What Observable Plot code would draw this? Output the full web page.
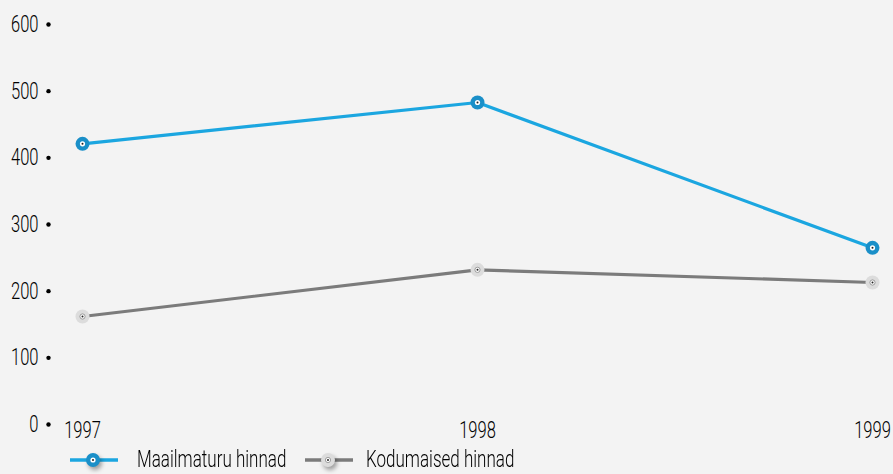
<!DOCTYPE html>
<html><head><meta charset="utf-8">
<script src="https://cdn.jsdelivr.net/npm/d3@7"></script>
<script src="https://cdn.jsdelivr.net/npm/@observablehq/plot@0.6"></script>
<style>
html,body{margin:0;padding:0;background:#f3f3f3;overflow:hidden;}
body{width:893px;height:474px;font-family:Roboto,sans-serif;}
#legend{position:relative;height:28px;margin-top:1px;font-size:23px;line-height:24px;color:#000;font-weight:300;}
.item{position:absolute;top:0;display:flex;align-items:center;height:28px;}
.item span{display:inline-block;transform:scaleX(0.74);transform-origin:left center;white-space:nowrap;}
</style></head><body>
<div id="chart"></div>
<div id="legend"></div>
<script>
const years = ["1997", "1998", "1999"];
const worldPrices = [421, 483, 265];
const domesticPrices = [162, 232, 213];
const seriesNames = ["Maailmaturu hinnad", "Kodumaised hinnad"];
const yTicks = [0, 100, 200, 300, 400, 500, 600];
const colors = ["#1ba6e0", "#7b7b7b"];
const fills = ["#1a8fc8", "#dcdcdc"];

const data = [];
years.forEach((y, i) => {
  data.push({year: y, value: worldPrices[i], series: seriesNames[0]});
  data.push({year: y, value: domesticPrices[i], series: seriesNames[1]});
});

const shadow = "drop-shadow(2px 3px 2px rgba(0,0,0,0.35))";

const chart = Plot.plot({
  width: 893,
  height: 445,
  marginLeft: 82,
  marginRight: 21,
  marginTop: 24,
  marginBottom: 21,
  style: {background: "#f3f3f3", fontFamily: "Roboto, sans-serif", fontSize: "23px", fontWeight: 300, color: "#000"},
  x: {type: "point", domain: years, padding: 0},
  y: {domain: [0, 600]},
  color: {domain: seriesNames, range: colors},
  marks: [
    Plot.axisY({ticks: yTicks, tickSize: 0, tickPadding: 44, label: null, className: "yax", fill: "#000"}),
    Plot.dot(yTicks, {y: d => d, frameAnchor: "left", dx: -34, r: 2.2, fill: "#000"}),
    Plot.axisX({tickSize: 0, tickPadding: -3, label: null, className: "xax", fill: "#000"}),
    Plot.line(data, {x: "year", y: "value", z: "series", stroke: "series", strokeWidth: 3.2}),
    Plot.dot(data, {x: "year", y: "value", r: 7, fill: d => d.series === seriesNames[0] ? fills[0] : fills[1], stroke: "none", style: {filter: shadow}}),
    Plot.dot(data, {x: "year", y: "value", r: 2.6, fill: "#ffffff", stroke: d => d.series === seriesNames[0] ? "none" : "#888", strokeWidth: 0.8}),
    Plot.dot(data, {x: "year", y: "value", r: 1, fill: "#222"})
  ]
});
// condense axis text (narrow typeface look)
chart.querySelectorAll(".yax text, .xax text").forEach(t => {
  const tr = t.getAttribute("transform") || "";
  t.setAttribute("transform", tr + " scale(0.72,1)");
});
document.getElementById("chart").appendChild(chart);

// legend
const legend = document.getElementById("legend");
const lx = [[70, 137], [305, 366]];
seriesNames.forEach((name, i) => {
  const item = document.createElement("div");
  item.className = "item";
  item.style.left = lx[i][0] + "px";
  const w = 50;
  const svg = `<svg width="${w}" height="20" style="overflow:visible;margin-right:${lx[i][1]-lx[i][0]-w}px">
    <line x1="0" x2="${w-2}" y1="10" y2="10" stroke="${colors[i]}" stroke-width="3.5"/>
    <circle cx="${w/2-2}" cy="10" r="7" fill="${fills[i]}" style="filter:${shadow}"/>
    <circle cx="${w/2-2}" cy="10" r="2.6" fill="#fff" ${i===1?'stroke="#888" stroke-width="0.8"':''}/>
    <circle cx="${w/2-2}" cy="10" r="1" fill="#222"/>
  </svg>`;
  item.innerHTML = svg + `<span>${name}</span>`;
  legend.appendChild(item);
});
</script>
</body></html>
